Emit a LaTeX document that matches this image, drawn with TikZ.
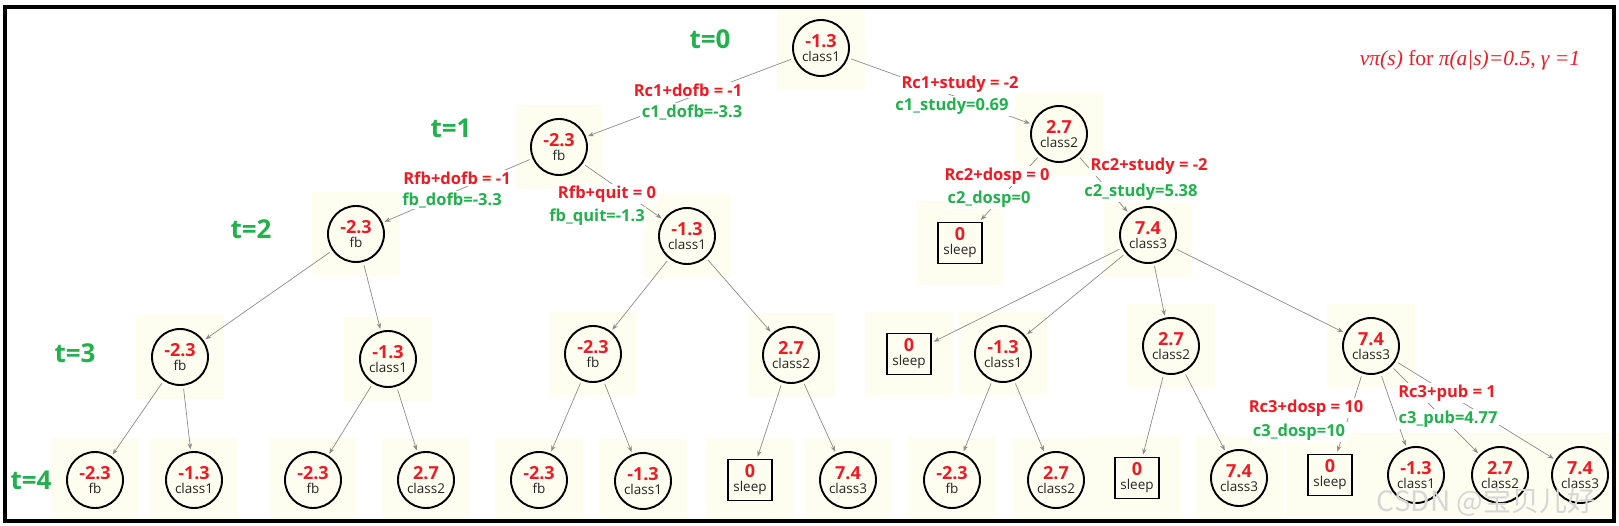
\documentclass[tikz,border=0pt]{standalone}
\usepackage{fontspec}
\setmainfont{Open Sans}
\newfontfamily\titlefont{Liberation Serif}
\newfontfamily\cjkfont{Noto Sans CJK SC}
\usetikzlibrary{arrows.meta,calc,backgrounds}
\definecolor{vred}{HTML}{ED1C24}
\definecolor{vgreen}{HTML}{22B14C}
\definecolor{edgegray}{HTML}{8C8C8C}
\definecolor{padyellow}{HTML}{FDFDF0}
\newcommand{\stv}[2]{{\color{vred}\bfseries\fontsize{18}{18}\selectfont #1}\\[-1pt]{\color{black!85}\fontsize{13.5}{13.5}\selectfont #2}}
\tikzset{
  state/.style={circle, draw=black, line width=1.9pt, minimum size=56pt, inner sep=0pt, align=center, font=\fontsize{13}{15}\selectfont},
  term/.style={rectangle, draw=black, line width=1.9pt, minimum width=44pt, minimum height=41pt, inner sep=0pt, align=center, font=\fontsize{13}{15}\selectfont},
  arr/.style={draw=edgegray, line width=0.7pt, -{Stealth[length=6pt,width=4.5pt]}, shorten <=3pt, shorten >=2pt},
  rl/.style={text=vred, font=\bfseries\fontsize{16.5}{16.5}\selectfont, fill=white, inner sep=1.5pt},
  gl/.style={text=vgreen, font=\bfseries\fontsize{16.5}{16.5}\selectfont, fill=white, inner sep=1.5pt},
  tl/.style={text=vgreen, font=\bfseries\fontsize{26}{26}\selectfont},
}
\begin{document}
\begin{tikzpicture}[x=1pt,y=-1pt]
\useasboundingbox (0,0) rectangle (1619,526);
% time labels
\node[tl] (t0) at (710,39) {t=0};
\node[tl] (t1) at (451,128) {t=1};
\node[tl] (t2) at (251,229) {t=2};
\node[tl] (t3) at (75,353) {t=3};
\node[tl] (t4) at (31,480) {t=4};
% level 0-2
\node[state] (r) at (821,48) {\stv{-1.3}{class1}};
\node[state] (a1) at (559,147) {\stv{-2.3}{fb}};
\node[state] (b1) at (1059,134) {\stv{2.7}{class2}};
\node[state] (a2) at (356,234) {\stv{-2.3}{fb}};
\node[state] (b2) at (687,236) {\stv{-1.3}{class1}};
\node[term] (s2) at (960,243) {\stv{0}{sleep}};
\node[state] (d2) at (1148,235) {\stv{7.4}{class3}};
% level 3
\node[state] (p1) at (180,357) {\stv{-2.3}{fb}};
\node[state] (p2) at (388,359) {\stv{-1.3}{class1}};
\node[state] (p3) at (593,354) {\stv{-2.3}{fb}};
\node[state] (p4) at (791,355) {\stv{2.7}{class2}};
\node[term] (p5) at (909,354) {\stv{0}{sleep}};
\node[state] (p6) at (1003,354) {\stv{-1.3}{class1}};
\node[state] (p7) at (1171,346) {\stv{2.7}{class2}};
\node[state] (p8) at (1371,346) {\stv{7.4}{class3}};
% level 4
\node[state] (q1) at (95,480) {\stv{-2.3}{fb}};
\node[state] (q2) at (194,480) {\stv{-1.3}{class1}};
\node[state] (q3) at (313,480) {\stv{-2.3}{fb}};
\node[state] (q4) at (426,480) {\stv{2.7}{class2}};
\node[state] (q5) at (539,480) {\stv{-2.3}{fb}};
\node[state] (q6) at (643,481) {\stv{-1.3}{class1}};
\node[term] (q7) at (750,480) {\stv{0}{sleep}};
\node[state] (q8) at (848,480) {\stv{7.4}{class3}};
\node[state] (q9) at (952,480) {\stv{-2.3}{fb}};
\node[state] (q10) at (1056,480) {\stv{2.7}{class2}};
\node[term] (q11) at (1137,478) {\stv{0}{sleep}};
\node[state] (q12) at (1239,478) {\stv{7.4}{class3}};
\node[term] (q13) at (1330,475) {\stv{0}{sleep}};
\node[state] (q14) at (1416,475) {\stv{-1.3}{class1}};
\node[state] (q15) at (1500,475) {\stv{2.7}{class2}};
\node[state] (q16) at (1580,475) {\stv{7.4}{class3}};
% white page and yellow pads
\begin{scope}[on background layer]
\fill[white] (0,0) rectangle (1619,526);
\foreach \n in {r,a1,b1,a2,b2,s2,d2,p1,p2,p3,p4,p5,p6,p7,p8,q1,q2,q3,q4,q5,q6,q7,q8,q9,q10,q11,q12,q13,q14,q15,q16}
  \fill[padyellow] ($(\n)+(-44,-42)$) rectangle ($(\n)+(44,42)$);
\end{scope}
% edges
\draw[arr] (r) -- (a1);
\draw[arr] (r) -- (b1);
\draw[arr] (a1) -- (a2);
\draw[arr] (a1) -- (b2);
\draw[arr] (b1) -- (s2);
\draw[arr] (b1) -- (d2);
\draw[arr] (a2) -- (p1);
\draw[arr] (a2) -- (p2);
\draw[arr] (b2) -- (p3);
\draw[arr] (b2) -- (p4);
\draw[arr] (d2) -- (p5);
\draw[arr] (d2) -- (p6);
\draw[arr] (d2) -- (p7);
\draw[arr] (d2) -- (p8);
\draw[arr] (p1) -- (q1);
\draw[arr] (p1) -- (q2);
\draw[arr] (p2) -- (q3);
\draw[arr] (p2) -- (q4);
\draw[arr] (p3) -- (q5);
\draw[arr] (p3) -- (q6);
\draw[arr] (p4) -- (q7);
\draw[arr] (p4) -- (q8);
\draw[arr] (p6) -- (q9);
\draw[arr] (p6) -- (q10);
\draw[arr] (p7) -- (q11);
\draw[arr] (p7) -- (q12);
\draw[arr] (p8) -- (q13);
\draw[arr] (p8) -- (q14);
\draw[arr] (p8) -- (q15);
\draw[arr] (p8) -- (q16);
% edge labels
\node[rl] (l1r) at (688,90) {Rc1+dofb = -1};
\node[gl] (l1g) at (692,112) {c1\_dofb=-3.3};
\node[rl] (l2r) at (960,84) {Rc1+study = -2};
\node[gl] (l2g) at (952,106) {c1\_study=0.69};
\node[rl] (l3r) at (457,178) {Rfb+dofb = -1};
\node[gl] (l3g) at (452,200) {fb\_dofb=-3.3};
\node[rl] (l4r) at (607,194) {Rfb+quit = 0};
\node[gl] (l4g) at (597,217) {fb\_quit=-1.3};
\node[rl] (l5r) at (997,176) {Rc2+dosp = 0};
\node[gl] (l5g) at (989,199) {c2\_dosp=0};
\node[rl] (l6r) at (1149,166) {Rc2+study = -2};
\node[gl] (l6g) at (1141,192) {c2\_study=5.38};
\node[rl] (l7r) at (1306,408) {Rc3+dosp = 10};
\node[gl] (l7g) at (1299,432) {c3\_dosp=10};
\node[rl] (l8r) at (1447,393) {Rc3+pub = 1};
\node[gl] (l8g) at (1448,419) {c3\_pub=4.77};
% title
\node[text=vred, font=\titlefont\fontsize{21.5}{21.5}\selectfont] (title) at (1470,60)
  {\itshape vπ(s) \upshape for \itshape π(a|s)=0.5, γ =1};
% watermark
\node[text=black!16, font=\cjkfont\fontsize{28}{28}\selectfont] (wm) at (1486,502) {CSDN @宝贝儿好};
% frame
\draw[line width=4.5pt] (5,7) rectangle (1614,521);
\end{tikzpicture}
\end{document}
